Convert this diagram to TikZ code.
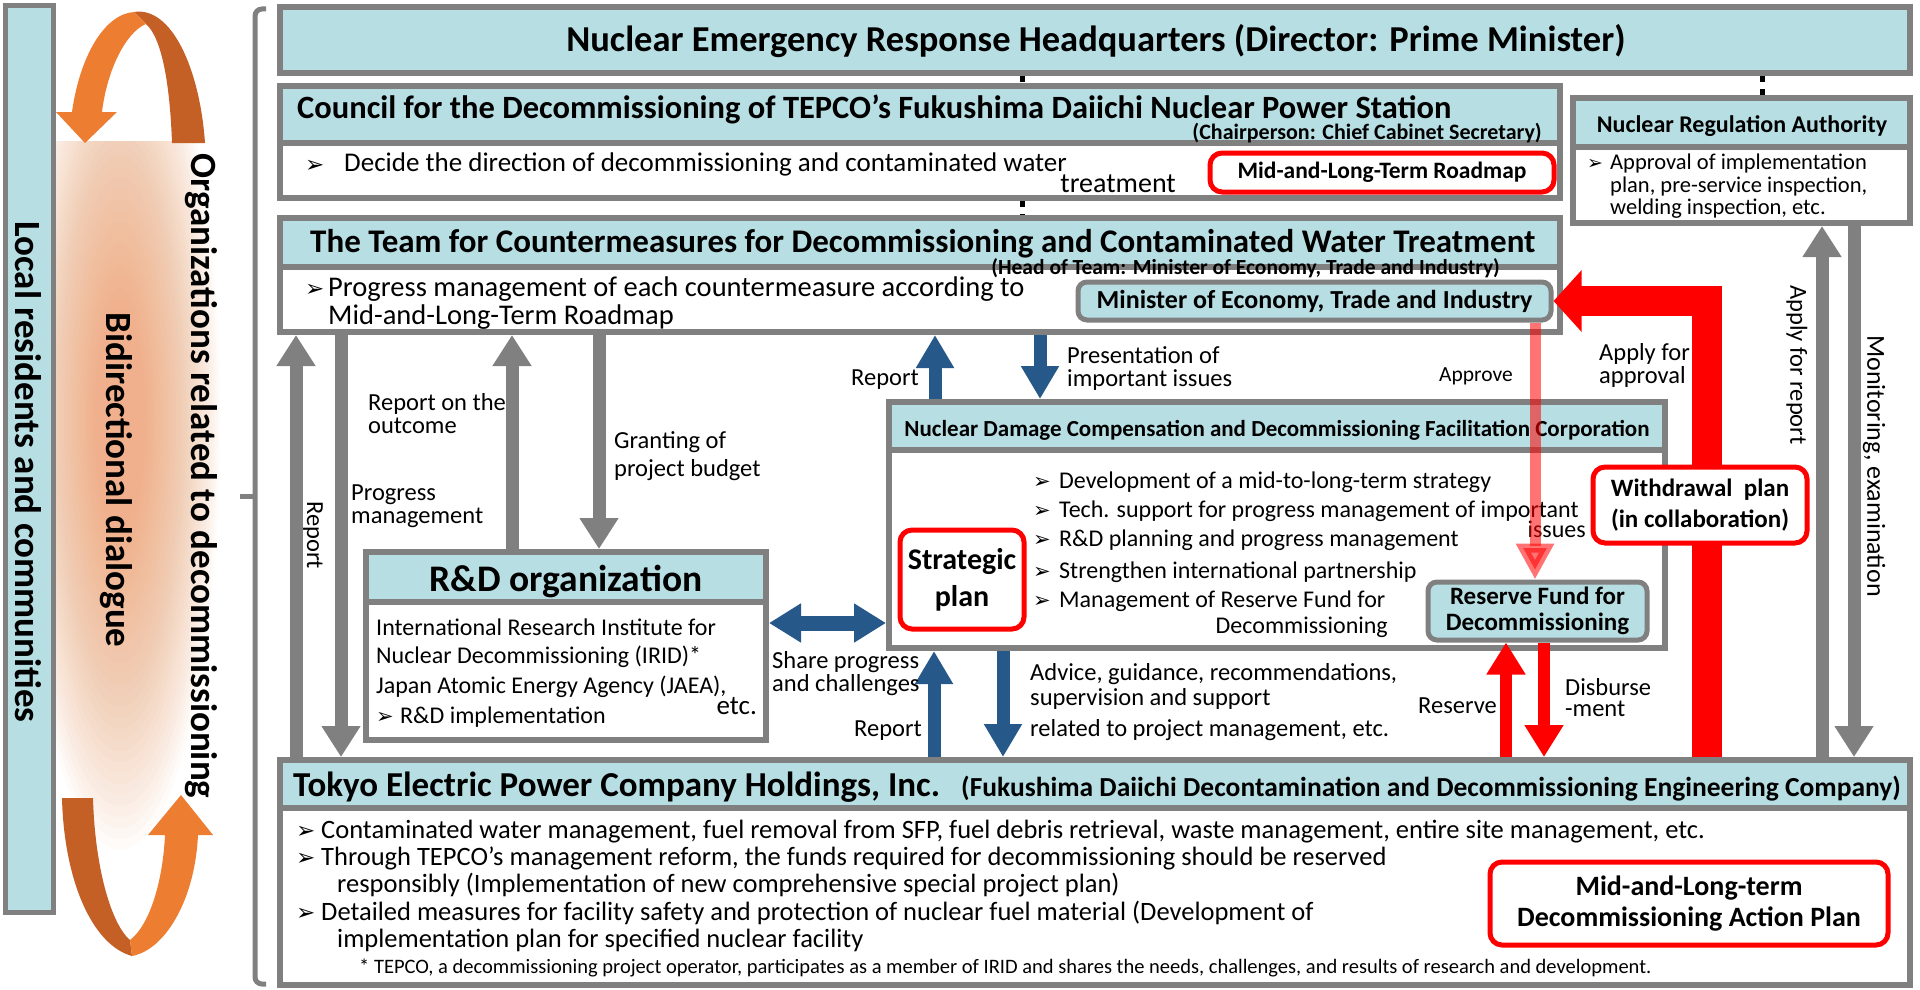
\documentclass[tikz,border=0pt]{standalone}
\usepackage{fontspec}
\setmainfont{Carlito}
\newfontfamily\dv{DejaVu Sans}
\usetikzlibrary{arrows.meta,fit,backgrounds}
\definecolor{gbord}{RGB}{128,128,128}
\definecolor{lblue}{RGB}{183,222,227}
\definecolor{dblue}{RGB}{38,88,138}
\definecolor{olight}{RGB}{237,125,49}
\definecolor{odark}{RGB}{196,96,38}
\definecolor{peach}{RGB}{240,150,95}
\definecolor{myred}{RGB}{255,0,0}
\newcommand{\fs}[1]{\fontsize{#1}{#1}\selectfont}
\newcommand{\fsl}[2]{\fontsize{#1}{#2}\selectfont}
\newcommand{\orgbox}[6]{%
  \node[box,fit={(#2,#3) (#4,#5)}] (#1) {};
  \begin{scope}[on background layer]
    \fill[white] (#1.north west) rectangle (#1.south east);
    \fill[lblue] (#1.north west) rectangle (#1.east |- 0,#6);
  \end{scope}
  \draw[gbord,line width=6pt] (#1.west |- 0,#6) -- (#1.east |- 0,#6);
}
\begin{document}
\begin{tikzpicture}[x=1pt,y=-1pt,
  box/.style={draw=gbord,line width=6pt,inner sep=0pt,outer sep=3pt},
  tl/.style={inner sep=0pt,anchor=base west},
  tr/.style={inner sep=0pt,anchor=base east},
  tc/.style={inner sep=0pt,anchor=base},
  lab/.style={inner sep=0pt,anchor=base west,font=\fs{24.5}},
  labr/.style={inner sep=0pt,anchor=base east,font=\fs{24.5}},
  vlab/.style={inner sep=0pt,rotate=-90,font=\fs{24.5}},
  vbig/.style={inner sep=0pt,rotate=-90,font=\bfseries\fs{37}},
  bul/.style={inner sep=0pt,anchor=base west,font={\dv\fs{23}}},
  garrow/.style={draw=gbord,line width=13pt,-{Triangle[width=37pt,length=31pt]}},
  barrow/.style={draw=dblue,line width=13pt,-{Triangle[width=36pt,length=33pt]}},
  rarrow/.style={draw=myred,line width=12pt,-{Triangle[width=37pt,length=32pt]}},
  redbox/.style={draw=myred,line width=5pt,rounded corners=12pt,fill=white,inner sep=0pt,align=center},
  bluebox/.style={draw=gbord,line width=5pt,rounded corners=9pt,fill=lblue,inner sep=0pt,align=center},
  dashc/.style={draw=black,line width=5pt,dash pattern=on 6pt off 7pt},
]
\begin{scope}[on background layer]
  \fill[white] (0,0) rectangle (1920,990);
\end{scope}
\useasboundingbox (0,0) rectangle (1920,990);

% peach glow
\begin{scope}
  \clip (56,141) rectangle (240,900);
  \foreach \k in {0,...,29}{
    \fill[peach,opacity=0.036] (120,420) ellipse ({100-2.6*\k} and {430-11*\k});
  }
\end{scope}

% left bar
\node[fill=lblue,draw=gbord,line width=5pt,inner sep=0pt,fit={(5,6) (53,912)}] (local) {};
\node[vbig] (localt) at (28,472) {Local residents and communities};
\node[vbig] (bidi) at (116,480) {Bidirectional dialogue};
\node[vbig] (orgs) at (201,476) {Organizations related to decommissioning};

% top orange arrow
\fill[odark] (134,12) .. controls (172,6) and (200,70) .. (205,143) -- (172,143) .. controls (170,85) and (162,38) .. (146,24) -- cycle;
\fill[olight] (72,112) .. controls (80,55) and (105,14) .. (134,12) -- (146,24) .. controls (126,32) and (107,70) .. (102,112) -- cycle;
\fill[olight] (56,112) -- (117,112) -- (85,143) -- cycle;
% bottom orange arrow
\fill[odark] (62,798) -- (93,798) .. controls (95,870) and (112,925) .. (130,940) -- (132,956) .. controls (92,945) and (64,880) .. (62,798) -- cycle;
\fill[olight] (130,940) .. controls (150,925) and (163,880) .. (165,835) -- (198,835) .. controls (195,900) and (165,950) .. (132,956) -- cycle;
\fill[olight] (148,835) -- (213,835) -- (181,795) -- cycle;

% bracket
\draw[gbord,line width=5pt,rounded corners=7pt] (266,9) -- (255,9) -- (255,984) -- (266,984);
\draw[gbord,line width=5pt] (255,496) -- (240,496);

% HQ
\node[box,fill=lblue,fit={(280,7) (1910,73)}] (hq) {};
\node[tc,font=\bfseries\fs{36.5}] (hqt) at (1096,52) {Nuclear Emergency Response Headquarters (Director: Prime Minister)};

% Council
\orgbox{council}{280}{86}{1560}{198}{143}
\node[tl,font=\bfseries\fs{32.5}] (cot) at (297,118) {Council for the Decommissioning of TEPCO's Fukushima Daiichi Nuclear Power Station};
\node[tr,font=\bfseries\fs{22}] (cos) at (1542,139) {(Chairperson: Chief Cabinet Secretary)};
\node[bul] (cob) at (305,172) {➢};
\node[tl,font=\fs{27}] (cobt) at (344,171) {Decide the direction of decommissioning and contaminated water};
\node[tr,font=\fs{28}] (cobt2) at (1176,192) {treatment};
\node[redbox,font=\bfseries\fs{23.5},minimum width=344,minimum height=39] (roadmap) at (1382,172.5) {Mid-and-Long-Term Roadmap};

% Team
\orgbox{team}{280}{218}{1560}{332}{267}
\node[tl,font=\bfseries\fs{33}] (tet) at (310,252) {The Team for Countermeasures for Decommissioning and Contaminated Water Treatment};
\node[tr,font=\bfseries\fs{21.5}] (tes) at (1500,274) {(Head of Team: Minister of Economy, Trade and Industry)};
\node[bul] (teb) at (305,296) {➢};
\node[tl,font=\fs{28.5}] (tebt) at (328,296) {Progress management of each countermeasure according to};
\node[tl,font=\fs{28.5}] (tebt2) at (328,324) {Mid-and-Long-Term Roadmap};
\node[bluebox,font=\bfseries\fs{26},minimum width=473,minimum height=38] (min) at (1314.5,301) {Minister of Economy, Trade and Industry};

% NRA
\orgbox{nra}{1573}{98}{1910}{223}{147}
\node[tc,font=\bfseries\fs{24}] (nrat) at (1742,132) {Nuclear Regulation Authority};
\node[bul,font={\dv\fs{19}}] (nrab) at (1587,169) {➢};
\node[tl,font=\fs{22.5}] (nra1) at (1610,169) {Approval of implementation};
\node[tl,font=\fs{22.5}] (nra2) at (1610,192) {plan, pre-service inspection,};
\node[tl,font=\fs{22.5}] (nra3) at (1610,214) {welding inspection, etc.};

% R&D
\orgbox{rd}{366}{552}{766}{740}{602}
\node[tc,font=\bfseries\fs{37.5}] (rdt) at (566,591) {R\&D organization};
\node[tl,font=\fs{24}] (rd1) at (376,635) {International Research Institute for};
\node[tl,font=\fs{24}] (rd2) at (376,663) {Nuclear Decommissioning (IRID)*};
\node[tl,font=\fs{24}] (rd3) at (376,693) {Japan Atomic Energy Agency (JAEA),};
\node[tr,font=\fs{27}] (rd4) at (757,714) {etc.};
\node[bul,font={\dv\fs{21}}] (rdb) at (376,723) {➢};
\node[tl,font=\fs{24}] (rd5) at (400,723) {R\&D implementation};

% NDF
\orgbox{ndf}{889}{402}{1665}{648}{450}
\node[tc,font=\bfseries\fs{23}] (ndft) at (1277,436) {Nuclear Damage Compensation and Decommissioning Facilitation Corporation};
\node[bul,font={\dv\fs{21}}] (nb1) at (1033,488) {➢};
\node[bul,font={\dv\fs{21}}] (nb2) at (1033,517) {➢};
\node[bul,font={\dv\fs{21}}] (nb3) at (1033,546) {➢};
\node[bul,font={\dv\fs{21}}] (nb4) at (1033,578) {➢};
\node[bul,font={\dv\fs{21}}] (nb5) at (1033,607) {➢};
\node[tl,font=\fs{24}] (n1) at (1059,488) {Development of a mid-to-long-term strategy};
\node[tl,font=\fs{24}] (n2) at (1059,517) {Tech. support for progress management of important};
\node[tr,font=\fs{24}] (n2b) at (1586,537) {issues};
\node[tl,font=\fs{24}] (n3) at (1059,546) {R\&D planning and progress management};
\node[tl,font=\fs{24}] (n4) at (1059,578) {Strengthen international partnership};
\node[tl,font=\fs{24}] (n5) at (1059,607) {Management of Reserve Fund for};
\node[tr,font=\fs{24}] (n5b) at (1388,633) {Decommissioning};
\node[redbox,font=\bfseries\fsl{30}{37},minimum width=124,minimum height=99] (sp) at (962,579.5) {Strategic\\plan};
\node[bluebox,font=\bfseries\fsl{25}{26},minimum width=219,minimum height=58] (res) at (1537.5,611) {Reserve Fund for\\Decommissioning};

% TEPCO
\orgbox{tepco}{280}{760}{1910}{985}{808}
\node[tl,font=\bfseries\fs{35}] (tept) at (293,796) {Tokyo Electric Power Company Holdings, Inc.};
\node[tr,font=\bfseries\fs{27.5}] (teps) at (1901,796) {(Fukushima Daiichi Decontamination and Decommissioning Engineering Company)};
\node[bul] (tb1) at (296,838) {➢};
\node[bul] (tb2) at (296,865) {➢};
\node[bul] (tb3) at (296,920) {➢};
\node[tl,font=\fs{26.5}] (tp1) at (321,838) {Contaminated water management, fuel removal from SFP, fuel debris retrieval, waste management, entire site management, etc.};
\node[tl,font=\fs{26.5}] (tp2) at (321,865) {Through TEPCO's management reform, the funds required for decommissioning should be reserved};
\node[tl,font=\fs{26.5}] (tp3) at (337,892) {responsibly (Implementation of new comprehensive special project plan)};
\node[tl,font=\fs{26.5}] (tp4) at (321,920) {Detailed measures for facility safety and protection of nuclear fuel material (Development of};
\node[tl,font=\fs{26.5}] (tp5) at (337,947) {implementation plan for specified nuclear facility};
\node[tl,font=\fs{20.5}] (tfn) at (359,973) {* TEPCO, a decommissioning project operator, participates as a member of IRID and shares the needs, challenges, and results of research and development.};
\node[redbox,font=\bfseries\fsl{28}{31},minimum width=398,minimum height=83] (ap) at (1689,903.5) {Mid-and-Long-term\\Decommissioning Action Plan};

% dashed links
\draw[dashc] (1022,0 |- hq.south) -- (1022,0 |- council.north);
\draw[dashc] (1022,0 |- council.south) -- (1022,0 |- team.north);
\draw[dashc] (1762,0 |- hq.south) -- (1762,0 |- nra.north);

% gray arrows left
\draw[garrow] (296,0 |- tepco.north) -- (296,0 |- team.south);
\draw[garrow] (341,0 |- team.south) -- (341,0 |- tepco.north);
\draw[garrow] (512,0 |- rd.north) -- (512,0 |- team.south);
\draw[garrow] (599,0 |- team.south) -- (599,0 |- rd.north);
\node[vlab] (l1) at (313,535) {Report};
\node[lab] (l2a) at (351,500) {Progress};
\node[lab] (l2b) at (351,523) {management};
\node[lab] (l3a) at (368,410) {Report on the};
\node[lab] (l3b) at (368,433) {outcome};
\node[lab] (l4a) at (614,448) {Granting of};
\node[lab] (l4b) at (614,476) {project budget};

% blue arrows
\draw[barrow] (935,0 |- ndf.north) -- (935,0 |- team.south);
\draw[barrow] (1040,0 |- team.south) -- (1040,0 |- ndf.north);
\draw[barrow] (934,0 |- tepco.north) -- (934,0 |- ndf.south);
\draw[barrow] (1003,0 |- ndf.south) -- (1003,0 |- tepco.north);
\draw[draw=dblue,line width=15pt,{Triangle[width=37pt,length=32pt]}-{Triangle[width=37pt,length=32pt]}] (rd.east |- 0,623) -- (ndf.west |- 0,623);
\node[labr] (b1) at (919,385) {Report};
\node[lab] (b2a) at (1067,363) {Presentation of};
\node[lab] (b2b) at (1067,386) {important issues};
\node[labr] (b3) at (922,736) {Report};
\node[lab] (b4a) at (1030,680) {Advice, guidance, recommendations,};
\node[lab] (b4b) at (1030,705) {supervision and support};
\node[lab] (b4c) at (1030,736) {related to project management, etc.};
\node[lab] (b5a) at (772,668) {Share progress};
\node[lab] (b5b) at (772,691) {and challenges};

% red arrows
\draw[draw=myred,line width=30pt,line join=miter,-{Triangle[width=60pt,length=28pt]}] (1707,0 |- tepco.north) |- (min.east);
\draw[draw=myred,opacity=0.55,line width=11pt,-{Triangle[width=36pt,length=36pt]}] (1535,0 |- min.south) -- (1535,0 |- res.north);
\draw[rarrow] (1506,0 |- tepco.north) -- (1506,0 |- res.south);
\draw[rarrow] (1544,0 |- res.south) -- (1544,0 |- tepco.north);
\node[redbox,font=\bfseries\fsl{25}{31},minimum width=214,minimum height=76] (wd) at (1700,505) {Withdrawal~ plan\\(in collaboration)};
\node[labr,font=\fs{21.5}] (r1) at (1513,381) {Approve};
\node[lab] (r2a) at (1599,360) {Apply for};
\node[lab] (r2b) at (1599,383) {approval};
\node[labr] (r3) at (1497,713) {Reserve};
\node[lab] (r4a) at (1565,695) {Disburse};
\node[lab] (r4b) at (1565,716) {-ment};

% gray arrows right
\draw[garrow] (1822,0 |- tepco.north) -- (1822,0 |- nra.south);
\draw[garrow] (1854,0 |- nra.south) -- (1854,0 |- tepco.north);
\node[vlab] (g1) at (1797,365) {Apply for report};
\node[vlab,font=\fs{26}] (g2) at (1874,466) {Monitoring, examination};
\end{tikzpicture}
\end{document}
